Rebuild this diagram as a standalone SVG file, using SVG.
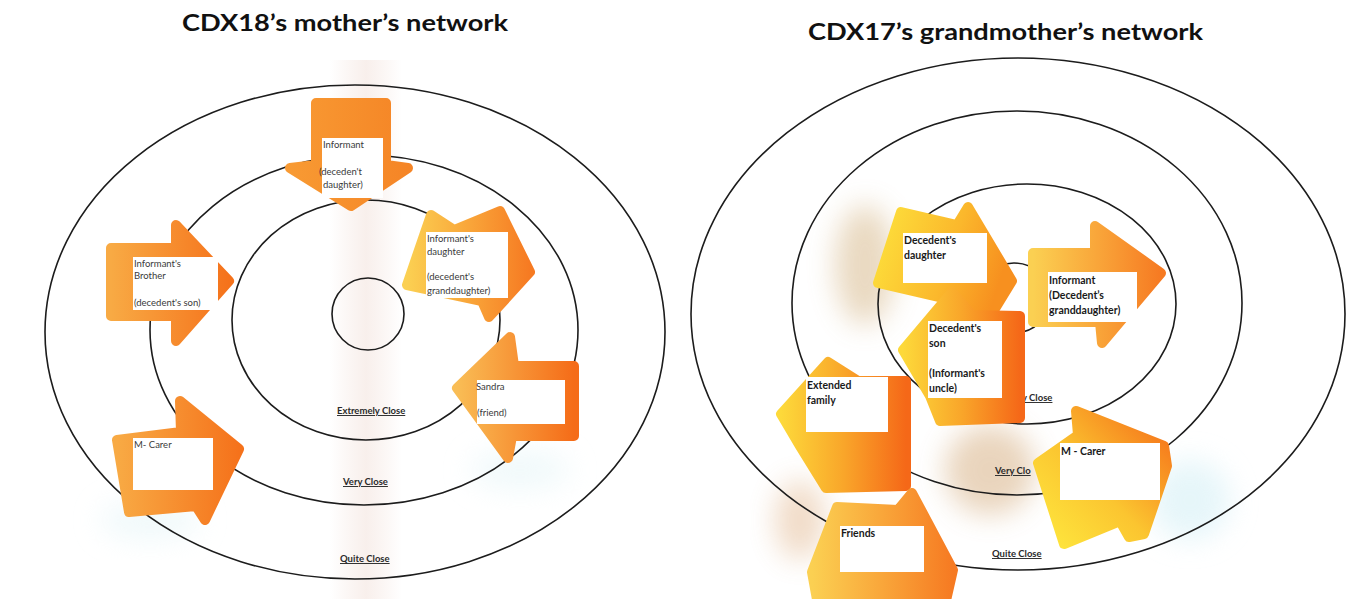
<svg xmlns="http://www.w3.org/2000/svg" width="1346" height="599" viewBox="0 0 1346 599">
  <defs>
    <style>
      .ring { fill: none; stroke: #1c1c1c; stroke-width: 1.6; }
      .note { stroke-width: 10; stroke-linejoin: round; }
      .card { fill: #ffffff; }
      .title { font-family: Lato, "Open Sans", sans-serif; font-weight: bold; font-size: 23px; fill: #111; }
      .lbl { font-family: Lato, "Open Sans", sans-serif; font-size: 9.5px; fill: #3a3a3a; }
      .lblb { font-family: Lato, "Open Sans", sans-serif; font-size: 10.5px; font-weight: bold; fill: #1a1a1a; }
      .zone { font-family: Lato, "Open Sans", sans-serif; font-size: 9.5px; font-weight: bold; fill: #2a2a2a; text-decoration: underline; }
    </style>
    <linearGradient id="gOrange" x1="0" y1="0" x2="1" y2="0">
      <stop offset="0" stop-color="#f8aa44"/>
      <stop offset="1" stop-color="#f5721b"/>
    </linearGradient>
    <linearGradient id="gOrangeFlat" x1="0" y1="0" x2="1" y2="0">
      <stop offset="0" stop-color="#f89a33"/>
      <stop offset="1" stop-color="#f58526"/>
    </linearGradient>
    <linearGradient id="gLeftPale" x1="0" y1="0" x2="1" y2="0">
      <stop offset="0" stop-color="#f9bd55"/>
      <stop offset="1" stop-color="#f56c18"/>
    </linearGradient>
    <linearGradient id="gYellow" x1="0" y1="0" x2="1" y2="0.3">
      <stop offset="0" stop-color="#fde23c"/>
      <stop offset="0.6" stop-color="#fbb82c"/>
      <stop offset="1" stop-color="#f7901f"/>
    </linearGradient>
    <linearGradient id="gYellowRed" x1="0" y1="0" x2="1" y2="0">
      <stop offset="0" stop-color="#fdd93a"/>
      <stop offset="0.5" stop-color="#f9a62a"/>
      <stop offset="1" stop-color="#f56818"/>
    </linearGradient>
    <linearGradient id="gDaughter" x1="0" y1="0" x2="1" y2="0">
      <stop offset="0" stop-color="#fbd052"/>
      <stop offset="0.5" stop-color="#f9a63a"/>
      <stop offset="1" stop-color="#f67a22"/>
    </linearGradient>
    <linearGradient id="gCarer" x1="0" y1="1" x2="1" y2="0">
      <stop offset="0" stop-color="#fee93e"/>
      <stop offset="0.45" stop-color="#fbc530"/>
      <stop offset="1" stop-color="#f56a18"/>
    </linearGradient>
    <linearGradient id="gFold" x1="0" y1="0" x2="1" y2="0">
      <stop offset="0" stop-color="#efd8cf" stop-opacity="0"/>
      <stop offset="0.5" stop-color="#f0dcd4" stop-opacity="0.45"/>
      <stop offset="1" stop-color="#efd8cf" stop-opacity="0"/>
    </linearGradient>
    <filter id="soft" x="-50%" y="-50%" width="200%" height="200%">
      <feGaussianBlur stdDeviation="14"/>
    </filter>
  </defs>

  <rect width="1346" height="599" fill="#ffffff"/>

  <!-- paper fold and light shading -->
  <g id="paper">
    <rect x="330" y="60" width="72" height="539" fill="url(#gFold)"/>
    <ellipse cx="150" cy="520" rx="50" ry="20" fill="#e2f4f7" opacity="0.5" filter="url(#soft)"/>
    <ellipse cx="520" cy="470" rx="50" ry="20" fill="#e2f4f7" opacity="0.5" filter="url(#soft)"/>
    <ellipse cx="865" cy="265" rx="30" ry="60" fill="#c9a064" opacity="0.4" filter="url(#soft)"/>
    <ellipse cx="990" cy="470" rx="45" ry="45" fill="#c9955a" opacity="0.4" filter="url(#soft)"/>
    <ellipse cx="800" cy="520" rx="25" ry="40" fill="#d08a4a" opacity="0.3" filter="url(#soft)"/>
    <ellipse cx="1190" cy="500" rx="40" ry="40" fill="#d5f0f6" opacity="0.6" filter="url(#soft)"/>
  </g>

  <!-- titles -->
  <text class="title" x="182" y="31" textLength="326" lengthAdjust="spacingAndGlyphs">CDX18’s mother’s network</text>
  <text class="title" x="808" y="40" textLength="395" lengthAdjust="spacingAndGlyphs">CDX17’s grandmother’s network</text>

  <!-- closeness rings -->
  <g id="rings-left">
    <ellipse class="ring" cx="355" cy="332" rx="310" ry="247"/>
    <ellipse class="ring" cx="364" cy="330" rx="214" ry="175"/>
    <ellipse class="ring" cx="366" cy="320" rx="134" ry="120"/>
    <ellipse class="ring" cx="368" cy="314" rx="36" ry="36"/>
  </g>
  <g id="rings-right">
    <ellipse class="ring" cx="1018" cy="314" rx="327" ry="256"/>
    <ellipse class="ring" cx="1017" cy="303" rx="225" ry="192"/>
    <ellipse class="ring" cx="1027" cy="304" rx="149" ry="120"/>
    <ellipse class="ring" cx="1014" cy="298" rx="36" ry="35"/>
  </g>

  <!-- zone labels -->
  <g id="zones">
    <text class="zone" x="337" y="414">Extremely Close</text>
    <text class="zone" x="343" y="485">Very Close</text>
    <text class="zone" x="340" y="562">Quite Close</text>
    <text class="zone" x="1022" y="401">y Close</text>
    <text class="zone" x="995" y="474">Very Clo</text>
    <text class="zone" x="992" y="557">Quite Close</text>
  </g>

  <!-- left network -->
  <g id="informant-left">
    <path class="note" fill="url(#gOrangeFlat)" stroke="url(#gOrangeFlat)" d="M316,103 L386,103 L386,165 L408,168 L351,206 L290,168 L316,165 Z"/>
    <rect class="card" x="322" y="138" width="61" height="60"/>
    <text class="lbl" x="323" y="148">Informant</text>
    <text class="lbl" x="319" y="175">(deceden't</text>
    <text class="lbl" x="323" y="188">daughter)</text>
  </g>

  <g id="informants-daughter">
    <path class="note" fill="url(#gDaughter)" stroke="url(#gDaughter)" d="M431,215 L454,230 L500,211 L530,272 L489,317 L482,301 L407,285 Z"/>
    <rect class="card" x="426" y="232" width="82" height="66"/>
    <text class="lbl" x="427" y="242">Informant's</text>
    <text class="lbl" x="427" y="255">daughter</text>
    <text class="lbl" x="427" y="280">(decedent's</text>
    <text class="lbl" x="427" y="294">granddaughter)</text>
  </g>

  <g id="informants-brother">
    <path class="note" fill="url(#gOrange)" stroke="url(#gOrange)" d="M111,248 L176,248 L176,225 L229,281 L176,341 L176,316 L111,316 Z"/>
    <rect class="card" x="133" y="257" width="85" height="53"/>
    <text class="lbl" x="134" y="267">Informant's</text>
    <text class="lbl" x="134" y="279">Brother</text>
    <text class="lbl" x="134" y="306">(decedent's son)</text>
  </g>

  <g id="sandra">
    <path class="note" fill="url(#gLeftPale)" stroke="url(#gLeftPale)" d="M457,388 L510,337 L514,366 L574,366 L574,436 L512,436 L508,458 Z"/>
    <rect class="card" x="477" y="380" width="88" height="44"/>
    <text class="lbl" x="476" y="390">Sandra</text>
    <text class="lbl" x="477" y="416">(friend)</text>
  </g>

  <g id="m-carer-left">
    <path class="note" fill="url(#gOrange)" stroke="url(#gOrange)" d="M117,440 L181,432 L180,401 L239,449 L205,520 L196,506 L129,512 Z"/>
    <rect class="card" x="133" y="438" width="80" height="52"/>
    <text class="lbl" x="134" y="448">M- Carer</text>
  </g>

  <!-- right network -->
  <g id="decedents-daughter">
    <path class="note" fill="url(#gYellow)" stroke="url(#gYellow)" d="M901,212 L957,225 L968,207 L1012,281 L982,330 L960,302 L878,283 Z"/>
    <rect class="card" x="903" y="233" width="84" height="50"/>
    <text class="lblb" x="904" y="244">Decedent's</text>
    <text class="lblb" x="904" y="259">daughter</text>
  </g>

  <g id="informant-right">
    <path class="note" fill="url(#gDaughter)" stroke="url(#gDaughter)" d="M1033,253 L1095,253 L1095,226 L1161,273 L1102,343 L1100,322 L1033,322 Z"/>
    <rect class="card" x="1048" y="272" width="89" height="50"/>
    <text class="lblb" x="1049" y="284">Informant</text>
    <text class="lblb" x="1049" y="299">(Decedent’s</text>
    <text class="lblb" x="1049" y="314">granddaughter)</text>
  </g>

  <g id="decedents-son">
    <path class="note" fill="url(#gYellowRed)" stroke="url(#gYellowRed)" d="M903,350 L952,292 L972,315 L1020,316 L1020,418 L940,421 L930,396 Z"/>
    <rect class="card" x="928" y="321" width="74" height="77"/>
    <text class="lblb" x="929" y="332">Decedent's</text>
    <text class="lblb" x="929" y="347">son</text>
    <text class="lblb" x="929" y="377">(Informant's</text>
    <text class="lblb" x="929" y="392">uncle)</text>
  </g>

  <g id="extended-family">
    <path class="note" fill="url(#gYellowRed)" stroke="url(#gYellowRed)" d="M781,414 L828,362 L858,381 L906,381 L906,486 L826,488 L800,446 Z"/>
    <rect class="card" x="806" y="377" width="82" height="55"/>
    <text class="lblb" x="807" y="389">Extended</text>
    <text class="lblb" x="807" y="404">family</text>
  </g>

  <g id="m-carer-right">
    <path class="note" fill="url(#gCarer)" stroke="url(#gCarer)" d="M1076,411 L1164,446 L1167,466 L1144,534 L1129,537 L1120,521 L1064,544 L1038,463 L1078,435 Z"/>
    <rect class="card" x="1060" y="443" width="100" height="57"/>
    <text class="lblb" x="1061" y="455">M - Carer</text>
  </g>

  <g id="friends">
    <path class="note" fill="url(#gDaughter)" stroke="url(#gDaughter)" d="M837,507 L898,510 L912,493 L953,570 L945,605 L818,605 L812,572 Z"/>
    <rect class="card" x="840" y="526" width="84" height="46"/>
    <text class="lblb" x="841" y="537">Friends</text>
  </g>

  <!-- no connectors are drawn between the notes -->
  <g id="connectors"/>
</svg>
